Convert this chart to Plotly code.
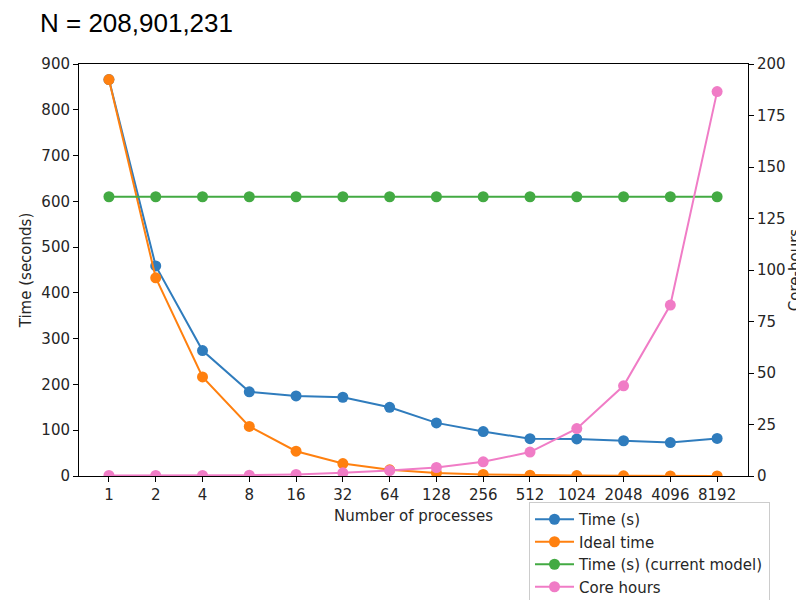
import plotly.graph_objects as go

processes = ["1", "2", "4", "8", "16", "32", "64", "128", "256", "512", "1024", "2048", "4096", "8192"]
time_s = [866, 459, 274, 184, 175, 172, 150, 116, 97, 81.5, 81, 77, 73, 82]
ideal_time = [866, 433, 216.5, 108.3, 54.1, 27.1, 13.5, 6.8, 3.4, 1.7, 0.85, 0.42, 0.21, 0.11]
time_model = [610, 610, 610, 610, 610, 610, 610, 610, 610, 610, 610, 610, 610, 610]
core_hours = [0.24, 0.26, 0.30, 0.41, 0.78, 1.53, 2.67, 4.12, 6.9, 11.6, 23.0, 43.8, 83.0, 186.6]

left_ticks = [0, 100, 200, 300, 400, 500, 600, 700, 800, 900]
right_ticks = [0, 25, 50, 75, 100, 125, 150, 175, 200]

C_BLUE = "#2f7cbd"
C_ORANGE = "#ff800f"
C_GREEN = "#43aa43"
C_PINK = "#f07cc6"

font_mpl = "DejaVu Sans"
tick_font = dict(family=font_mpl, size=15, color="#262626")

# the page body has an 8px default margin, so the figure is sized to fill the rest
W, H = 796, 592

fig = go.Figure()

def add(y, name, color, yaxis="y"):
    fig.add_trace(go.Scatter(
        x=processes, y=y, name=name, mode="lines+markers", yaxis=yaxis,
        line=dict(color=color, width=2),
        marker=dict(color=color, size=11),
    ))

add(time_s, "Time (s)", C_BLUE)
add(ideal_time, "Ideal time", C_ORANGE)
add(time_model, "Time (s) (current model)", C_GREEN)
add(core_hours, "Core hours", C_PINK, "y2")

fig.update_layout(
    template="none",
    width=W, height=H,
    margin=dict(l=71, r=56, t=56, b=124, autoexpand=False),
    paper_bgcolor="white", plot_bgcolor="white",
    title=dict(text="N = 208,901,231", x=32/W, xanchor="left", xref="container",
               y=1 - 15/H, yanchor="middle", yref="container",
               font=dict(family="Liberation Sans", size=26, color="black")),
    xaxis=dict(type="category", range=[-0.64, 13.66], tickfont=tick_font, automargin=False,
               showgrid=False, zeroline=False, showline=True, linecolor="black", linewidth=1,
               mirror=True, ticks="outside", ticklen=5, tickcolor="black",
               title=dict(text="Number of processes", font=tick_font, standoff=7)),
    yaxis=dict(range=[0, 900], tickvals=left_ticks, tickfont=tick_font, automargin=False,
               showgrid=False, zeroline=False, showline=True, linecolor="black", linewidth=1,
               ticks="outside", ticklen=5, tickcolor="black",
               title=dict(text="Time (seconds)", font=tick_font, standoff=6)),
    yaxis2=dict(range=[0, 200], tickvals=right_ticks, tickfont=tick_font, overlaying="y",
                automargin=False,
                side="right", showgrid=False, zeroline=False, showline=True, linecolor="black",
                linewidth=1, ticks="outside", ticklen=5, tickcolor="black",
                title=dict(text="Core-hours", font=tick_font, standoff=13)),
    legend=dict(x=450/669, y=-26/412, xanchor="left", yanchor="top",
                bgcolor="white", bordercolor="#cccccc", borderwidth=1, itemwidth=39,
                font=dict(family=font_mpl, size=15, color="#262626"), tracegroupgap=0),
    showlegend=True,
)

fig.write_html("out.html")
